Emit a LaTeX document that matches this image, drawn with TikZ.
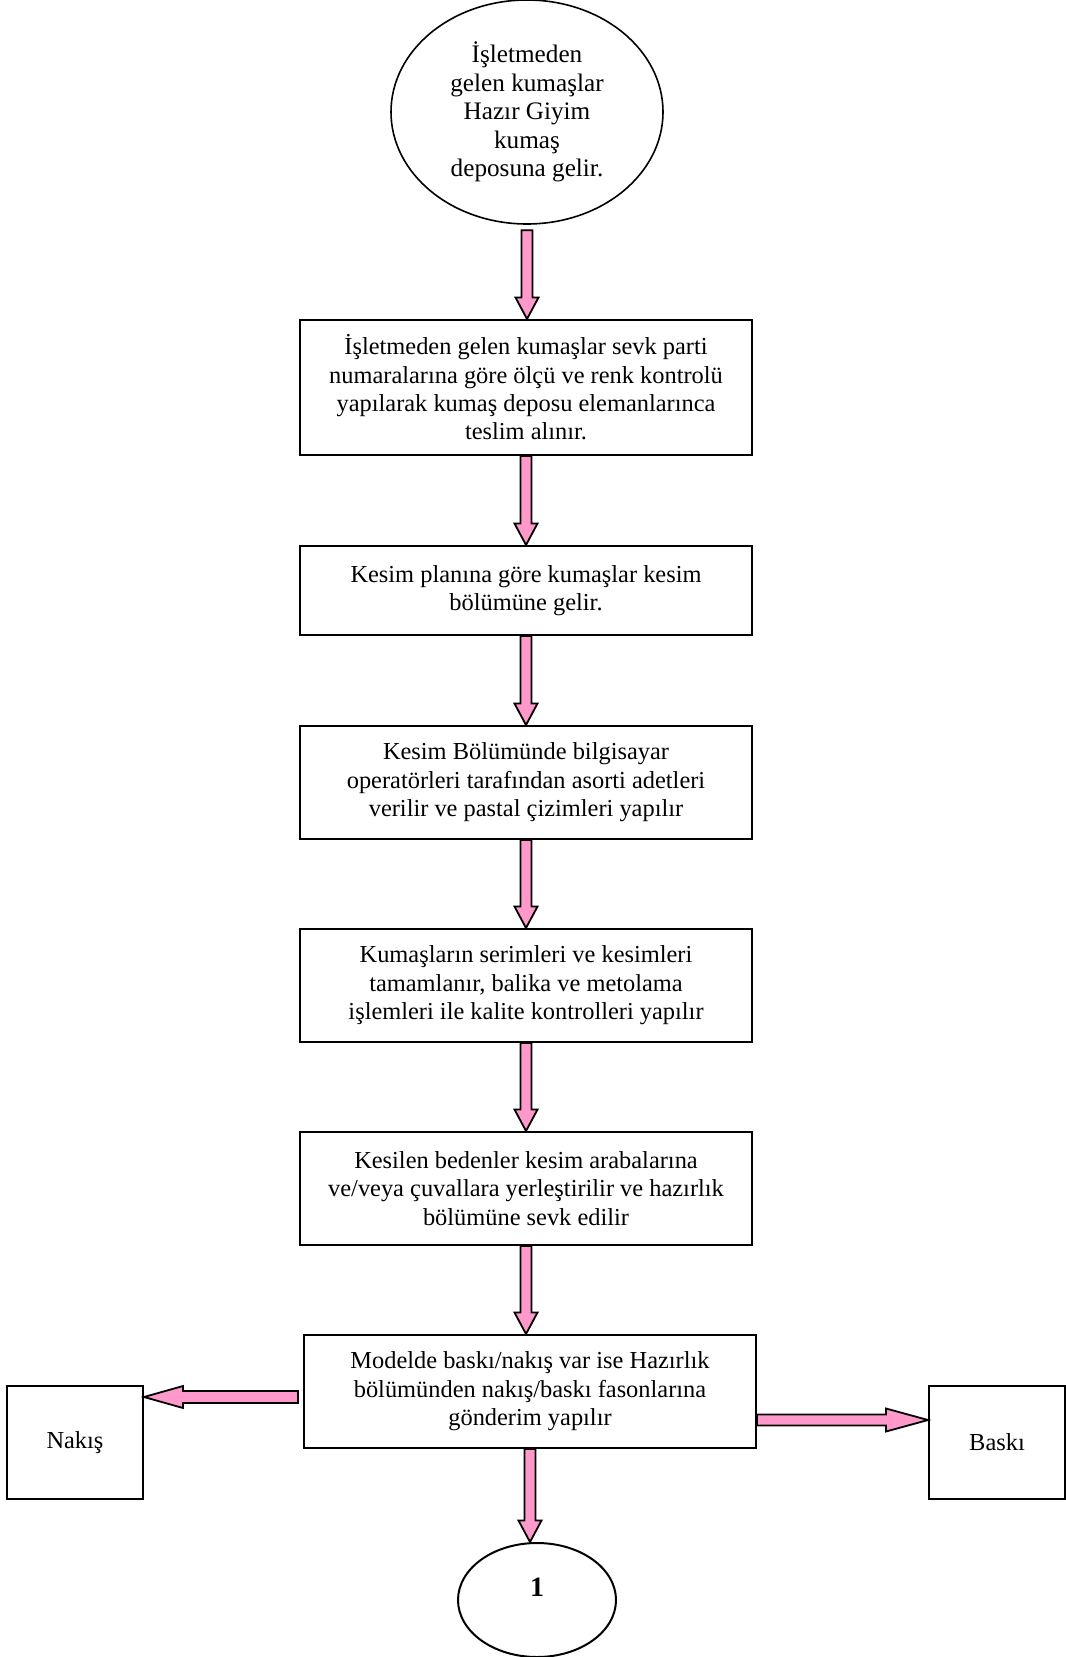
\documentclass[tikz,border=0pt]{standalone}
\usepackage{fontspec}
\setmainfont{Liberation Serif}
\usetikzlibrary{shapes.geometric,calc}
\newlength\px
\setlength\px{0.5pt}
\definecolor{arrowpink}{RGB}{255,153,204}
\tikzset{
  stepbox/.style={draw=black, line width=1pt, rectangle, align=center, inner sep=0pt,
    minimum width=452\px, font=\fontsize{12.2pt}{14.2pt}\selectfont},
  sidebox/.style={draw=black, line width=1pt, rectangle, align=center, inner sep=0pt,
    minimum width=136\px, minimum height=113\px, font=\fontsize{12.2pt}{14.2pt}\selectfont},
  ovalnode/.style={draw=black, line width=0.8pt, ellipse, align=center, inner sep=0pt},
  blockarrow/.style={draw=black, line width=0.9pt, fill=arrowpink, line join=miter}
}
\newcommand{\dnarrow}[3]{%
  \draw[blockarrow] let \p1=(#1.south), \p2=(#2.north) in
   (\x1-2.75pt,\y1-#3) -- (\x1-2.75pt,\y2+10.75pt) -- (\x1-5.75pt,\y2+10.75pt) -- (\x1,\y2)
   -- (\x1+5.75pt,\y2+10.75pt) -- (\x1+2.75pt,\y2+10.75pt) -- (\x1+2.75pt,\y1-#3) -- cycle;}
\begin{document}
\begin{tikzpicture}[x=\px, y=-\px]
\useasboundingbox[fill=white] (0,0) rectangle (1065,1657);

\node[ovalnode, minimum width=272\px, minimum height=224\px,
      font=\fontsize{12.6pt}{14.25pt}\selectfont] (start) at (527,112)
  {İşletmeden\\gelen kumaşlar\\Hazır Giyim\\kumaş\\deposuna gelir.};

\node[stepbox, minimum height=135\px] (b1) at (526,387.5)
  {İşletmeden gelen kumaşlar sevk parti\\numaralarına göre ölçü ve renk kontrolü\\yapılarak kumaş deposu elemanlarınca\\teslim alınır.};
\node[stepbox, minimum height=89\px] (b2) at (526,590.5)
  {Kesim planına göre kumaşlar kesim\\bölümüne gelir.};
\node[stepbox, minimum height=113\px] (b3) at (526,782.5)
  {Kesim Bölümünde bilgisayar\\operatörleri tarafından asorti adetleri\\verilir ve pastal çizimleri yapılır};
\node[stepbox, minimum height=113\px] (b4) at (526,985.5)
  {Kumaşların serimleri ve kesimleri\\tamamlanır, balika ve metolama\\işlemleri ile kalite kontrolleri yapılır};
\node[stepbox, minimum height=113\px] (b5) at (526,1188.5)
  {Kesilen bedenler kesim arabalarına\\ve/veya çuvallara yerleştirilir ve hazırlık\\bölümüne sevk edilir};
\node[stepbox, minimum height=113\px] (b6) at (530,1391.5)
  {Modelde baskı/nakış var ise Hazırlık\\bölümünden nakış/baskı fasonlarına\\gönderim yapılır};

\node[sidebox] (nakis) at (75,1442.5) {Nakış};
\node[sidebox] (baski) at (997,1442) {Baskı};

\node[ovalnode, line width=1pt, minimum width=158\px, minimum height=114\px,
      font=\fontsize{14pt}{16pt}\selectfont\bfseries] (end) at (537,1600)
  {\raisebox{6.5pt}[\height][\depth]{1}};

\dnarrow{start}{b1}{2.75pt}
\dnarrow{b1}{b2}{0pt}
\dnarrow{b2}{b3}{0pt}
\dnarrow{b3}{b4}{0pt}
\dnarrow{b4}{b5}{0pt}
\dnarrow{b5}{b6}{0pt}
\dnarrow{b6}{end}{0pt}

% left arrow to Nakis
\draw[blockarrow] let \p1=(b6.west), \p2=(nakis.east) in
  (\x1-2.5pt,\y1+0.25pt) -- (\x2+19.5pt,\y1+0.25pt) -- (\x2+19.5pt,\y1+2.75pt) -- (\x2,\y1-2.75pt)
  -- (\x2+19.5pt,\y1-8.25pt) -- (\x2+19.5pt,\y1-5.75pt) -- (\x1-2.5pt,\y1-5.75pt) -- cycle;

% right arrow to Baski
\draw[blockarrow] let \p1=(b6.east), \p2=(baski.west) in
  (\x1,\y1-11.5pt) -- (\x2-21pt,\y1-11.5pt) -- (\x2-21pt,\y1-8.5pt) -- (\x2,\y1-14.25pt)
  -- (\x2-21pt,\y1-20pt) -- (\x2-21pt,\y1-17pt) -- (\x1,\y1-17pt) -- cycle;
\end{tikzpicture}
\end{document}
